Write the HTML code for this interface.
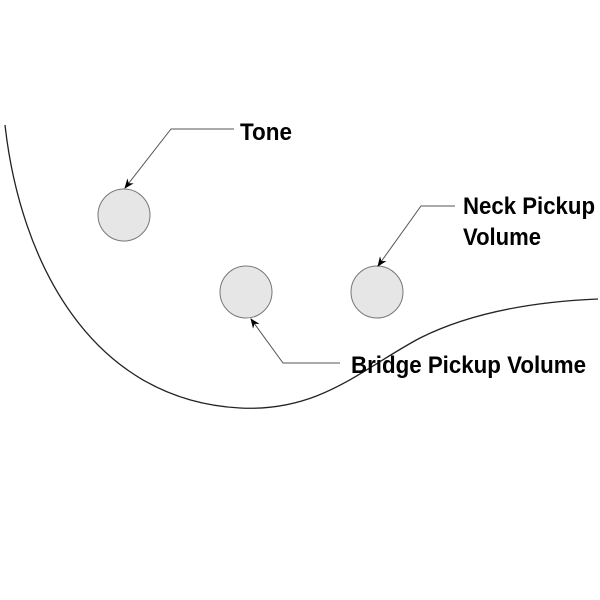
<!DOCTYPE html>
<html><head><style>
html,body{margin:0;padding:0;background:#fff;}
svg{display:block;}
text{font-family:"Liberation Sans Narrow","Liberation Sans",sans-serif;font-weight:bold;font-size:24px;fill:#000;}
</style></head><body>
<svg width="600" height="600" viewBox="0 0 600 600" xmlns="http://www.w3.org/2000/svg">
<defs>
<marker id="a" markerWidth="10" markerHeight="10" refX="9" refY="5" orient="auto" markerUnits="userSpaceOnUse">
<path d="M0,1 L10,5 L0,9 L3,5 Z" fill="#000"/>
</marker>
</defs>
<path d="M5,125 C20,260 90,400 240,408 C320,412 360,370 420,338 C480,308 550,301 598,299" fill="none" stroke="#222" stroke-width="1.3"/>
<circle cx="124" cy="215" r="26" fill="#e6e6e6" stroke="#777" stroke-width="1"/>
<circle cx="246" cy="292" r="26" fill="#e6e6e6" stroke="#777" stroke-width="1"/>
<circle cx="377" cy="292" r="26" fill="#e6e6e6" stroke="#777" stroke-width="1"/>
<polyline points="234,129 171,129 125,188" fill="none" stroke="#555" stroke-width="1" marker-end="url(#a)"/>
<polyline points="455,206 421,206 378,266" fill="none" stroke="#555" stroke-width="1" marker-end="url(#a)"/>
<polyline points="340,363 283,363 251,319" fill="none" stroke="#555" stroke-width="1" marker-end="url(#a)"/>
<text x="240" y="140" textLength="52" lengthAdjust="spacingAndGlyphs">Tone</text>
<text x="463" y="214" textLength="132" lengthAdjust="spacingAndGlyphs">Neck Pickup</text>
<text x="463" y="245" textLength="78" lengthAdjust="spacingAndGlyphs">Volume</text>
<text x="351" y="373" textLength="235" lengthAdjust="spacingAndGlyphs">Bridge Pickup Volume</text>
</svg>
</body></html>
